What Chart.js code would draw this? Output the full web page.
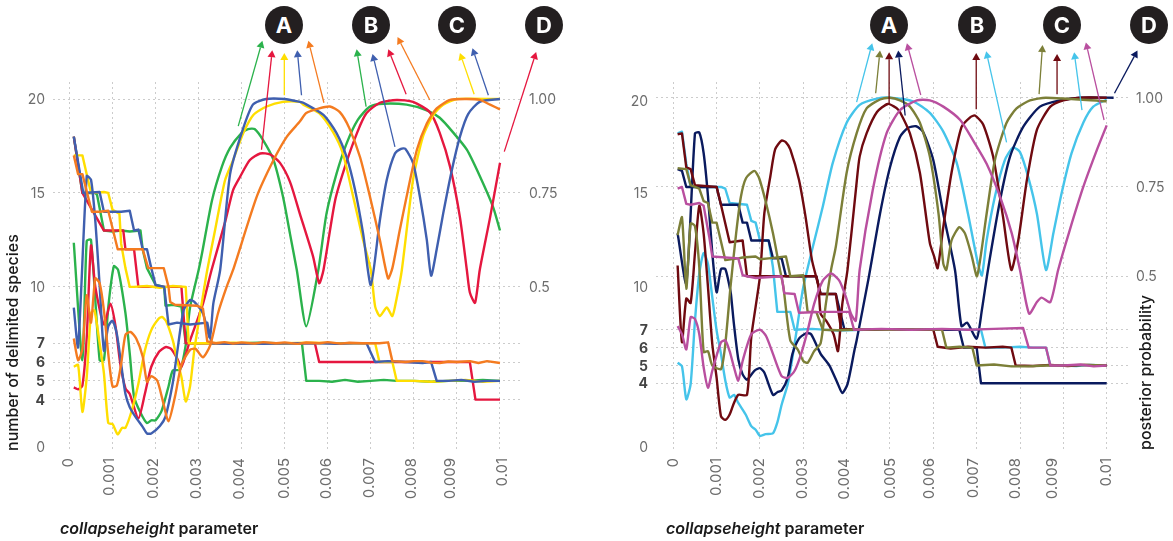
<!DOCTYPE html>
<html><head><meta charset="utf-8">
<script src="https://cdn.jsdelivr.net/npm/chart.js@4"></script>
<style>
html,body{margin:0;padding:0;background:#fff;width:1173px;height:541px;overflow:hidden;font-family:Inter,sans-serif}
canvas{position:absolute;top:0}
.badge{position:absolute;top:6px;width:38px;height:38px;border-radius:50%;background:#231f20;color:#fff;font:700 22px/38px Inter,sans-serif;text-align:center}
.ytitle{position:absolute;white-space:nowrap;color:#1a1a1a;font:500 16px Inter,sans-serif;transform-origin:0 0;transform:rotate(-90deg) translateY(-50%)}
.xtitle{position:absolute;top:518px;white-space:nowrap;color:#1a1a1a;font:600 16px Inter,sans-serif}
</style></head><body>
<canvas id="left" width="586" height="541" style="left:0"></canvas>
<canvas id="right" width="587" height="541" style="left:586px"></canvas>
<div class="ytitle" style="left:12px;top:451px">number of delimited species</div>
<div class="ytitle" style="left:1145px;top:450px">posterior probability</div>
<div class="xtitle" style="left:60px"><i>collapseheight</i> parameter</div>
<div class="xtitle" style="left:666px"><i>collapseheight</i> parameter</div>
<div class="badge" style="left:265px">A</div><div class="badge" style="left:352px">B</div><div class="badge" style="left:438px">C</div><div class="badge" style="left:525px">D</div>
<div class="badge" style="left:870px">A</div><div class="badge" style="left:958px">B</div><div class="badge" style="left:1043px">C</div><div class="badge" style="left:1130px">D</div>
<script>
// x positions are counted in steps of the collapseheight parameter
const STEP = 0.0001;
const xGridValues = [0,0.001,0.002,0.003,0.004,0.005,0.006,0.007,0.008,0.009,0.01];
const xTickLabels = ['0','0.001','0.002','0.003','0.004','0.005','0.006','0.007','0.008','0.009','0.01'];
// the printed labels do not sit exactly on their grid lines in the reference
const xLabelAtLeft = [-0.00003,0.00094,0.00195,0.00295,0.00396,0.005,0.00596,0.00696,0.00795,0.00884,0.01006];
const xLabelAtRight = [0,0.00099,0.00198,0.00298,0.00396,0.00501,0.00592,0.00692,0.0079,0.00876,0.00999];
const yGridValues = [4,5,6,7,10,15,20];
const yTickLabels = ['0','4','5','6','7','10','15','20'];
const yLabelAtLeft = [1.43,3.95,4.95,5.95,6.95,9.95,14.95,19.95];
const yLabelAtRight = [0.36,3.95,4.95,5.95,6.95,9.35,14.6,19.75];
const probLabelAt = [0.4975,0.7475,0.9975];
const probTickLabels = ['0.5','0.75','1.00'];

// ---- left panel ----
const greenCountSteps=[1,3,6,6.4,8,10,12,14,16.5,17,18,20,22,22.3,24,26,27,32,36,40,44,48,52,54,55,58,61,64,67,70,73,76,80,84,88,92,96,100];
const greenCountValues=[18,15,15,14.9,13,12.95,13,12.95,13,12,11,10.1,10,9,9.05,8.95,7,7,7,7,7.03,7,7,7,5,5,4.95,5.05,4.95,5,5.05,5,5,4.95,5,5,5.05,5];
const greenCurveSteps=[1,3,4,5,7,8,9,10.3,11.3,13,14,15,16.5,18,19,20,21.4,23,24,25.7,27,28,30,30.8,33.1,35.4,37.3,40,41.5,43,45,47.4,49.6,51.2,52.8,55,57.8,59.7,62,64.4,67,69.8,72.9,78.3,83,86,89,92.3,95.3,98.4,100];
const greenCurveValues=[12.35,6.1,12.45,12.5,6.1,6.1,8.9,11.1,10.9,8.6,6.45,4.15,3.3,2.75,2.9,2.9,3.4,4.7,5.55,5.6,6.9,8.9,10.9,11.8,14.6,16.4,17.4,18.2,18.4,18.4,17.8,16.75,14.8,12.85,10.9,7.9,10.9,13.9,16,17.65,18.9,19.6,19.75,19.7,19.4,19,18.25,17.3,15.9,14.25,13];

const redCountSteps=[1,3,8,12.5,13,15,16,20,26,27,32,40,50,57,58,65,75,85,93,94.3,100];
const redCountValues=[18,15,13,13,12,12,10,10,10,7,7,7,7,7,6,6,6,6,6,4,4];
const redCurveSteps=[1,2,3,4,5,6,8,9.5,10.7,11.8,13,14,16,17.5,19,20.8,22.4,23.6,25,26,28,31,33,36.2,38,39.6,41.9,44.3,46.6,48.9,51.2,53.5,56.6,58,59,61.7,64,66.8,69,72.1,76,79.8,83.7,86,88.4,90.7,92.3,93,94.2,95.3,97.7,100];
const redCurveValues=[4.65,4.55,4.75,7.3,12.2,10,8,9.1,7.9,5.9,4.6,4.3,3,4.3,5.75,6.55,6.8,6.7,6.2,5.75,7.15,9.1,10.9,13.5,15.15,15.85,16.75,17.1,17.05,16.6,15.6,13.9,11.6,10.2,10.9,14.6,16.4,18.2,19.25,19.8,19.95,19.85,19.3,18.2,16.4,13.7,10.9,9.7,9.15,10.9,13.7,16.6];

const yellowCountSteps=[1,3,4,5,8,9,10,11.6,12,13,14,15,18,21,24,27,27.7,32,38,44,50,56,62,68,71,72,75,76,80,84,88,92,96,100];
const yellowCountValues=[17,17,16,15,15.05,15,14.1,13.9,12.3,11,10,10,10.05,9.95,10.05,10,7,7,7.03,7,7,7.03,7,7,7,6,6,5,5,4.95,5,5.05,4.95,5];
const yellowCurveSteps=[1,2,3,4,5,5.8,7,8,9,10,11.2,12.2,13,14.5,16,17.5,19,20.7,21.5,22.5,24,25,26,27,28,29,30.7,32,33.8,36.1,38,40.4,42.7,45.8,49.6,53.5,54.3,58,61.2,63.5,65.9,68.2,70,71,72.1,73.7,75,76,77.2,79.8,82.1,84.5,86.8,90,100];
const yellowCurveValues=[5.75,5.85,3.35,5.2,8.6,8.75,7,5.4,2.75,2.7,2.15,2.5,2.5,3.45,4.85,6.6,7.7,8.3,8.4,8.15,7.15,6.1,5.2,3.9,4.7,6.65,9.1,10.9,13,15.65,16.75,18.2,19.15,19.6,19.85,19.85,19.7,19.25,18.25,17.1,14.8,12.5,10.9,8.95,8.45,8.9,8.45,9.4,10.9,15.7,18,19.15,19.7,20,20];

const blueCountSteps=[1,3.2,7,8,12,14,15,16,17,18,19,20,22,23,25,28,32,33,37,41,45,50,54,58,62,66,69,70,71,74,78,82,84,85.3,88,91,94,97,100];
const blueCountValues=[18,15,15.05,14,14,14.05,13,13.05,12,12,11,10.1,10,8,8.1,8,8.1,7,6.97,7,6.97,7,7,7,6.97,7,7,6.5,6,6.05,6,5.95,6,5,5,5.05,4.95,5,5];
const blueCurveSteps=[1,2,4,5,6,7,8,9,10,11,12,13,14,15.3,17,18,19,21,22.3,24,25,26.5,28,29,31,32.6,33.4,35,37.3,40,42.6,45.7,50,53.5,54.3,59,62,64.4,66.3,68.2,70,72.1,73.7,75.6,77,78,79.8,81.4,83,84,85.3,86.8,88.8,90.7,92.6,95.3,100];
const blueCurveValues=[8.9,6.8,15.9,15.7,13.5,10.1,6.6,7.9,8.2,7.5,5.9,4.3,3.6,3.1,2.55,2.2,2.2,2.6,3.1,4.9,6.5,8.75,9.3,9.2,8.6,7.3,9.1,10.9,16,18.2,19.7,20,20,19.85,19.8,19.15,18.2,16.9,15.2,12.85,10.1,13.55,15.7,17.1,17.35,17.35,16.6,14.8,12.5,10.6,12,13.9,16.2,18,19.2,19.85,20];

const orangeCountSteps=[1,2,3,5.2,7,9,11.2,17,18.3,21.9,23,23.4,24.5,29.6,31,32,34,36,38,40,43,45,48,50,53,55,58,60,63,65,68,70,72,74,75,78,80,82,84,86,88,90,93,95,97,100];
const orangeCountValues=[17,16,16,14,14,14.05,12,12,11,11,10,9.2,9.05,9,8.85,7.1,7,7.06,6.98,7.05,6.98,7.06,7,7.05,6.97,7.04,7,7.06,6.98,7.03,7,7,7,7.05,6.05,6,6.05,6.05,5.97,5.95,6.03,6,6.05,5.95,6.05,5.95];
const orangeCurveSteps=[1,2,3,4,5,6,7,8,9,10,11,12,13,14.2,15.5,17,18,19,20.4,21.6,23,24.5,26,28,29.3,31,32.7,34.5,36.5,38,43.5,47.4,50.5,53.5,55,58,60.5,62.8,65,67.5,69.8,72.1,74,75,76.7,78.3,80.7,83,85.3,88.4,92.3,95.3,97.7,100];
const orangeCurveValues=[7.25,6.1,6.7,9.55,8.1,10.45,10.2,8.75,6.45,4.7,4.75,5.9,7.45,7.6,7.25,6.3,4.95,5.25,5,4,2.85,4.15,5.85,6.65,6.7,6.25,6.9,8.6,10,10.9,14.8,16.75,18,18.8,19.25,19.5,19.6,19.3,18.45,16.9,14.8,12.5,10.45,11,13,14.8,17.3,18.7,19.5,19.95,20,19.95,19.7,19.45];

// arrows: [fromStep, fromValue, toStep, toValue]
const greenArrows=[[39.2,18.56,44.8,23.1],[68.9,19.6,66.7,22.65]];
const redArrows=[[44.6,17.3,47.1,22.6],[78.2,20.25,74.05,22.65],[101,17.2,108.4,22.5]];
const yellowArrows=[[49.9,20.2,49.9,22.45],[94,20.25,90.7,22.45]];
const blueArrows=[[53.9,20.2,52.9,22.6],[75.6,17.45,70.4,22.4],[97.3,20.2,93.6,22.7]];
const orangeArrows=[[59.1,19.8,55.5,23.1],[83.7,19.95,76.2,23.3]];

// ---- right panel ----
const cyanCountSteps=[1,2,3,4,10,11,12,13,17,18,19,20,22,23,24,27,28,32,38,44,50,56,62,68,71,72,76,80,83,86,87,90,93,96,100];
const cyanCountValues=[18,18.1,16.3,15,15,15,14.9,14.1,14,13.1,13,12,12,10.5,8,8,7,7.05,6.95,7,7,7,7,7,7,6,6,6.05,6,6,5,5,4.97,5.03,5];
const cyanCurveSteps=[1,2,3,4,5,6,7,8,8.7,10,11,12,13,14,15,16.7,18,19,20,21.3,23,24,25,26.4,27.5,28.7,30,32.2,34.5,36.8,40,43,47,50,55.3,59.2,62.3,65.4,68,70.3,71.2,72.3,74.2,76.5,78.4,80,81.9,83.9,86,87.7,89.6,91.9,94.6,96.9,100];
const cyanCurveValues=[5.15,4.95,3.1,3.95,7.5,10.15,11.3,10.7,9.4,6.95,5.65,4.15,3.2,3.35,2.9,2.25,1.6,1.4,1.05,1.15,1.2,1.8,2.8,3.95,5.45,7.35,9.4,11.65,13.9,16.35,18.6,19.6,19.95,20,19.8,19.15,18.1,16.35,13.5,10.7,10.05,12,14.45,16.5,17.2,16.95,15.55,13.5,10.35,12.4,14.65,16.9,18.6,19.5,19.9];

const navyCountSteps=[1,2,3,10,11,15,16,17,18,22,23,25,26,33,34,37.5,39.5,44,50,56,62,66,67,70,71,100];
const navyCountValues=[16,15.9,15,15,14,14,13,13,12,12,11,11,10,10,9,9,7,7,7,7,7,7,6,6,4,4];
const navyCurveSteps=[1,3,5,6,7,8,9,10,11,12,13,13.3,14,15,16,17,18.7,20,21,23,24,25,26.4,27.5,29,30.6,31.8,34,36,38,39,40.2,41.8,42.3,45,47.7,50,52.3,54.1,56,57.6,60,62.3,65,66.5,67.8,70,71.2,72.6,75.4,77.7,80.7,84.6,89.2,93.9,101.6];
const navyCurveValues=[12.4,9.6,18,18.05,16.9,14.5,11.3,9.1,10.4,10.4,9.4,9,7.3,5.35,4.5,4.2,4.7,4.85,4.6,3.35,3.5,3.6,4.3,5.65,6.5,6.8,6.75,5.65,5,3.95,3.45,3.95,5.85,6.4,9.8,13.5,16.1,17.8,18.3,18.4,18.1,16.5,13.5,10.35,7.2,7.4,6.5,8.1,10.35,14.25,16.7,18.35,19.5,19.85,20,20];

const maroonCountSteps=[1,2,3,4,5,10,11,13,16,17,25,33,34,37.5,38.7,44,50,56,60,61,64,68,72,76,78,79,83,87,91,95,100];
const maroonCountValues=[17.95,18,16.1,16,15.1,15,14,11.9,12,10,10,10,9,9,7.05,7,7.03,7,7,6.05,5.95,6.05,6,6.05,6,5,4.97,5.03,4.97,5.03,5];
const maroonCurveSteps=[1,2,3,4,5,6,7,8,9,10,11,12,13,14,15,17,18,20,21,22.4,23.5,25,26,27,29,30.5,32,33.5,34,35.3,37,38,39,40.2,42.2,43,44.6,47,49.5,51.6,52.3,54.6,56.9,59.2,60.2,61,62.3,64.2,66.5,68.5,69.6,71.5,73.8,76.1,78,79.6,81.6,83.9,87,90,93.9,100];
const maroonCurveValues=[10.6,6.3,8.75,8.5,11.3,13.95,12.4,9.4,6.2,4.3,2.15,1.95,2.25,2.9,3.35,3.35,6.6,10,13.5,15.6,17.1,17.6,17.5,17.1,15.4,13.35,10.9,9.4,7.9,7.5,6.75,5.8,8.45,10.35,15,16.7,18,19.2,19.65,19.4,19.2,18,15.8,11.85,11.1,10.45,12.75,15.8,18.35,18.9,19,18.5,16.7,13.3,10.35,12,15.4,18.2,19.5,19.85,20,20];

const oliveCountSteps=[1,3,4,6,7,8,9,10,12,15,16,19,20,22,26,27,30,31,33,34.5,38,44,50,56,62,63,66,69,70,74,78,82,86,90,95,100];
const oliveCountValues=[16.05,16,15.1,14.9,14.2,14.1,13,13,10.9,11,11.05,11.1,10.95,11,11.1,10,10.05,8,8,7,6.97,7.03,7,7.03,7,6,6.05,6,5,5.05,4.95,4.95,5,5,5.03,5];
const oliveCurveSteps=[1,2,3,4,5,6,7,8,9,11,12,13.2,14.5,15.6,16.8,18.7,19.8,21.4,23,24.5,25.4,27,28.7,30,31,32.5,34,35.2,36.4,37.5,40,42.3,44.6,47.7,50,52.3,54.6,56.9,59.2,61.2,62.3,63,64.2,66,67.3,68.9,70.1,72.3,74.2,76.9,79.2,82.3,86,100];
const oliveCurveValues=[12.3,13.3,9.3,12.95,12.8,10.5,5.75,5.8,5,4.8,6.2,9.4,12.4,14.45,15.5,15.9,15.5,14.1,12.4,10.5,9.4,6.4,5.9,5.25,5.15,5.8,6.25,8.45,10.35,11.65,15.8,18,19.4,19.9,20,19.85,19.5,18.6,16.7,13.5,10.7,10.35,12,12.75,12.4,11.1,10,13.5,16.5,18.6,19.4,19.85,20,19.8];

const magentaCountSteps=[1,2,3,4,6,7,8.3,9,15,16,19,25,25.6,28,29,35,40.6,41.7,48,55,62,68,74,80.7,82,86,87,90,94,97,100];
const magentaCountValues=[14.9,15,14.05,14,14.1,13.95,12.2,11.1,11,10.05,9.9,10,9.05,9,7.95,8,8,7,7.05,7,7.05,7,7.05,7.1,6,6,5,5,5.05,4.95,5];
const magentaCurveSteps=[1,2,3,4,5,6,7,8,9,11,12,13,14,15,16,18,20,21.4,23,25,26.4,28,29.5,31,32.5,34.5,36.4,38.3,39.8,41,42.1,43,46,49.2,52.3,56.2,59.2,62.3,66.2,69.2,72.3,75.4,78.1,80,82.1,83.9,85,87,88.8,91.5,94.6,97.7,100];
const magentaCurveValues=[7.2,6.75,5.9,7.7,7.6,6.75,4.9,3.75,4.7,6.3,6.4,5.8,4.9,4.15,5.25,6.75,7,6.65,5.65,4.4,4.3,4.7,5.65,6.95,8.45,9.75,10.15,9.75,8.85,7.9,7.5,10.35,14.8,18,19.3,19.85,19.85,19.5,18.75,17.6,16.3,14.45,12.4,10.35,7.9,8.55,8.8,8.55,10.35,12.6,15,17.05,18.45];

const cyanArrows=[[42.3,19.75,45.9,23.05],[76.9,17.5,72.2,22.6],[94.3,19.3,92.5,22.55]];
const oliveArrows=[[46.7,20.25,47.7,22.65],[84.4,20.2,85.2,22.95]];
const maroonArrows=[[49.8,19.7,49.8,22.55],[69.9,19.35,69.9,22.5],[88.55,20.2,88.55,22.45]];
const navyArrows=[[53.5,19,51.9,22.65],[101.8,20.25,107.1,22.65]];
const magentaArrows=[[57.1,20.15,53.9,23.05],[99.4,18.75,95.2,23.1]];

const GREEN='#2bb24c',RED='#e5173f',YELLOW='#ffde00',BLUE='#3f5faf',ORANGE='#f47b20';
const CYAN='#45c4ea',OLIVE='#7c7f38',MAROON='#6f0a10',NAVY='#0a1a5e',MAGENTA='#b94f9f';

const toPoints=(s,v)=>s.map((step,i)=>({x:step*STEP,y:v[i]}));
const base=(s,v,c)=>({data:toPoints(s,v),borderColor:c,borderWidth:2.4,pointRadius:0,borderJoinStyle:'round',borderCapStyle:'butt',fill:false});
const line=(s,v,c)=>({...base(s,v,c),tension:0});
const curve=(s,v,c)=>({...base(s,v,c),tension:0.22});

const arrowPlugin={id:'arrows',afterDatasetsDraw(chart,_,opts){
  const {ctx,scales:{x,y}}=chart;
  opts.groups.forEach(([list,color])=>list.forEach(([s0,v0,s1,v1])=>{
    const x0=x.getPixelForValue(s0*STEP),y0=y.getPixelForValue(v0),x1=x.getPixelForValue(s1*STEP),y1=y.getPixelForValue(v1);
    const a=Math.atan2(y1-y0,x1-x0),h=7,w=4;
    const bx=x1-h*Math.cos(a),by=y1-h*Math.sin(a);
    ctx.save();ctx.strokeStyle=color;ctx.fillStyle=color;ctx.lineWidth=1.3;
    ctx.beginPath();ctx.moveTo(x0,y0);ctx.lineTo(bx,by);ctx.stroke();
    ctx.beginPath();ctx.moveTo(x1,y1);
    ctx.lineTo(bx-w*Math.sin(a),by+w*Math.cos(a));ctx.lineTo(bx+w*Math.sin(a),by-w*Math.cos(a));ctx.closePath();ctx.fill();
    ctx.restore();
  }));
}};

function build(id,cfg){
  const GRID='#cccccc',CLEAR='rgba(0,0,0,0)';
  const edge={display:false,dash:[2,3]};
  const gray='#6d6d6d',font={family:'Inter',size:14,weight:'400'},xfont={family:'Inter',size:15,weight:'400'},bold={family:'Inter',size:14,weight:'700'};
  const isBold=c=>!!c.tick&&['4','5','6','7'].includes(c.tick.label);
  // label ticks come first and draw no grid line; grid ticks follow and print no label
  const xN=xTickLabels.length,yN=yTickLabels.length;
  new Chart(document.getElementById(id),{
    type:'line',
    data:{datasets:cfg.datasets},
    plugins:[arrowPlugin],
    options:{
      responsive:false,animation:false,events:[],
      layout:{padding:{top:82,left:0,right:0,bottom:0}},
      plugins:{legend:{display:false},tooltip:{enabled:false},title:{display:false},arrows:{groups:cfg.arrows}},
      scales:{
        x:{type:'linear',min:cfg.xMin,max:cfg.xMax,border:edge,
          grid:{lineWidth:1,drawTicks:false,color:c=>c.index>=xN?GRID:CLEAR},
          afterBuildTicks:s=>{s.ticks=[...cfg.xLabelAt,...xGridValues].map(v=>({value:v}));},
          afterFit:s=>{s.height=89;},
          ticks:{autoSkip:false,minRotation:90,maxRotation:90,padding:6,color:gray,font:xfont,
            callback:(v,i)=>i<xN?xTickLabels[i]:''}},
        y:{type:'linear',position:'left',min:cfg.yMin,max:cfg.yMax,border:edge,
          grid:{lineWidth:1,drawTicks:false,color:c=>c.index>=yN?GRID:CLEAR},
          afterBuildTicks:s=>{s.ticks=[...cfg.yLabelAt,...yGridValues].map(v=>({value:v}));},
          afterFit:s=>{s.width=cfg.leftW;},
          ticks:{autoSkip:false,padding:8,
            color:c=>isBold(c)?'#444':gray,
            font:c=>isBold(c)?bold:font,
            callback:(v,i)=>i<yN?yTickLabels[i]:''}},
        prob:{type:'linear',position:'right',min:1-(20-cfg.yMin)*0.05,max:1+(cfg.yMax-20)*0.05,border:{display:false},
          grid:{display:false,drawTicks:false},
          afterBuildTicks:s=>{s.ticks=probLabelAt.map(v=>({value:v}));},
          afterFit:s=>{s.width=cfg.rightW;},
          ticks:{autoSkip:false,padding:8,color:gray,font,
            callback:(v,i)=>probTickLabels[i]}}
      }
    }
  });
}

// Chart.js paints the first dataset last, so the topmost colour is listed first
build('left',{
  xMin:-0.000383,xMax:0.010488,yMin:1.213,yMax:20.905,xLabelAt:xLabelAtLeft,yLabelAt:yLabelAtLeft,leftW:53,rightW:65,
  datasets:[
    line(orangeCountSteps,orangeCountValues,ORANGE),curve(orangeCurveSteps,orangeCurveValues,ORANGE),
    line(blueCountSteps,blueCountValues,BLUE),curve(blueCurveSteps,blueCurveValues,BLUE),
    line(yellowCountSteps,yellowCountValues,YELLOW),curve(yellowCurveSteps,yellowCurveValues,YELLOW),
    line(redCountSteps,redCountValues,RED),curve(redCurveSteps,redCurveValues,RED),
    line(greenCountSteps,greenCountValues,GREEN),curve(greenCurveSteps,greenCurveValues,GREEN)
  ],
  arrows:[[greenArrows,GREEN],[redArrows,RED],[yellowArrows,YELLOW],[blueArrows,BLUE],[orangeArrows,ORANGE]]
});
build('right',{
  xMin:-0.000399,xMax:0.010492,yMin:0.15,yMax:20.88,xLabelAt:xLabelAtRight,yLabelAt:yLabelAtRight,leftW:70,rightW:45,
  datasets:[
    line(magentaCountSteps,magentaCountValues,MAGENTA),curve(magentaCurveSteps,magentaCurveValues,MAGENTA),
    line(oliveCountSteps,oliveCountValues,OLIVE),curve(oliveCurveSteps,oliveCurveValues,OLIVE),
    line(maroonCountSteps,maroonCountValues,MAROON),curve(maroonCurveSteps,maroonCurveValues,MAROON),
    line(navyCountSteps,navyCountValues,NAVY),curve(navyCurveSteps,navyCurveValues,NAVY),
    line(cyanCountSteps,cyanCountValues,CYAN),curve(cyanCurveSteps,cyanCurveValues,CYAN)
  ],
  arrows:[[cyanArrows,CYAN],[oliveArrows,OLIVE],[maroonArrows,MAROON],[navyArrows,NAVY],[magentaArrows,MAGENTA]]
});
</script>
</body></html>
